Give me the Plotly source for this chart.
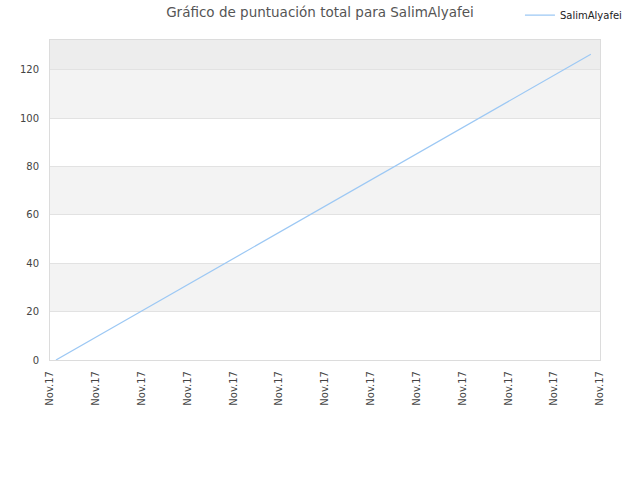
import plotly.graph_objects as go

# data
player = "SalimAlyafei"
x_pos = [0.13, 11.8]
scores = [0, 126.5]
tick_pos = list(range(13))
tick_labels = ["Nov.17"] * 13
band_edges = [(20, 40), (60, 80), (100, 120)]
y_top = 132.4

fig = go.Figure()
fig.add_trace(go.Scatter(x=x_pos, y=scores, mode="lines", name=player,
                         line=dict(color="#9cc8f4", width=1.2)))

# alternating background bands
for lo, hi in band_edges:
    fig.add_shape(type="rect", xref="paper", yref="y", x0=0, x1=1, y0=lo, y1=hi,
                  fillcolor="#f3f3f3", line_width=0, layer="below")
fig.add_shape(type="rect", xref="paper", yref="y", x0=0, x1=1, y0=120, y1=y_top,
              fillcolor="#ededed", line_width=0, layer="below")

fig.update_layout(
    width=640, height=480,
    margin=dict(l=50, r=40, t=40, b=120, autoexpand=False),
    paper_bgcolor="white", plot_bgcolor="white",
    font=dict(family="DejaVu Sans", size=10, color="#444"),
    title=dict(text="Gráfico de puntuación total para " + player,
               x=0.5, xanchor="center", y=0.974, yanchor="middle",
               font=dict(size=13.5, color="#555")),
    showlegend=True,
    legend=dict(x=1.049, xanchor="right", y=1.078, yanchor="middle",
                font=dict(size=10, color="#222"), bgcolor="rgba(0,0,0,0)"),
)
fig.update_xaxes(range=[0, 12], tickmode="array", tickvals=tick_pos, ticktext=tick_labels,
                 tickangle=-90, showgrid=False, zeroline=False,
                 showline=True, linecolor="#dcdcdc", mirror=True,
                 ticks="outside", ticklen=6, tickcolor="rgba(0,0,0,0)")
fig.update_yaxes(range=[0, y_top], tickvals=[0, 20, 40, 60, 80, 100, 120],
                 showgrid=True, gridcolor="#e2e2e2", zeroline=False,
                 showline=True, linecolor="#dcdcdc", mirror=True,
                 ticks="outside", ticklen=8, tickcolor="rgba(0,0,0,0)")

# drop the default page margin so the figure sits at the window's corner
fig.write_html("out.html", config={"displayModeBar": False},
               post_script="document.body.style.margin='0';")
